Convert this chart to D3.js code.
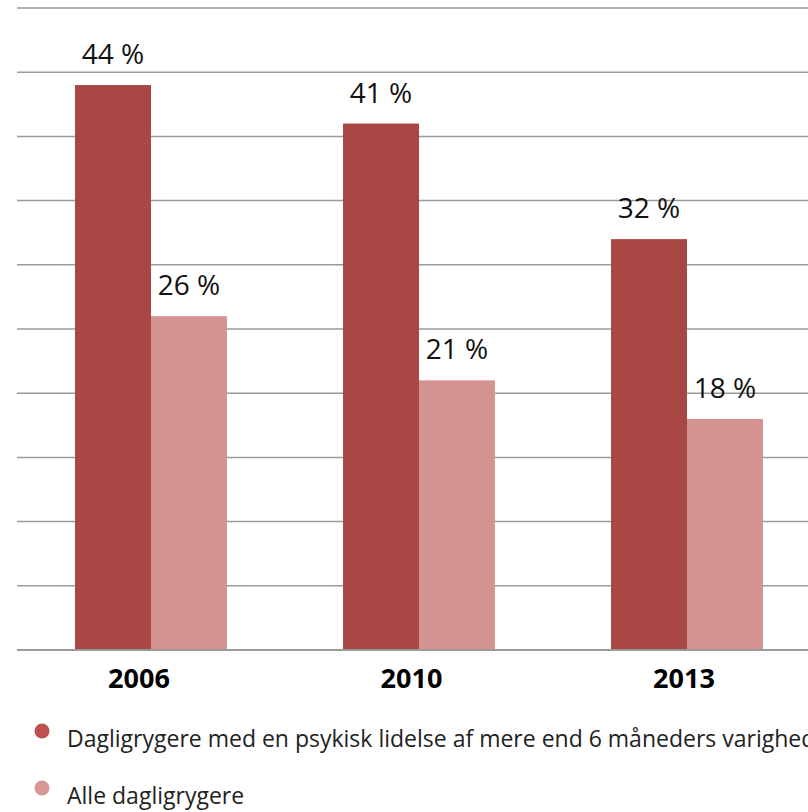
<!DOCTYPE html>
<html>
<head>
<meta charset="utf-8">
<script src="https://cdn.jsdelivr.net/npm/d3@7"></script>
<style>
  body { margin: 0; background: #fff; }
  svg text { font-family: "Open Sans", sans-serif; }
</style>
</head>
<body>
<svg id="chart" width="808" height="812"></svg>
<script>
const years = ["2006", "2010", "2013"];
const seriesNames = ["Dagligrygere med en psykisk lidelse af mere end 6 måneders varighed", "Alle dagligrygere"];
const psykisk = [44, 41, 32];
const alle = [26, 21, 18];
const yTicks = [0, 5, 10, 15, 20, 25, 30, 35, 40, 45, 50];
const colors = ["#A94744", "#D49391"];
const legendColors = ["#C0504D", "#D99694"];

const svg = d3.select("#chart");

const x = d3.scaleBand()
    .domain(years)
    .range([17, 821])
    .paddingInner(0.433)
    .paddingOuter(0.2165);

const xSub = d3.scaleBand()
    .domain([0, 1])
    .range([0, x.bandwidth()]);

// year labels sit a bit left of the bar groups
const xLab = d3.scalePoint()
    .domain(years)
    .range([139, 684]);

const y = d3.scaleLinear()
    .domain([0, 50])
    .range([650, 8]);

// gridlines
svg.selectAll(".grid")
    .data(yTicks)
    .enter()
    .append("line")
    .attr("class", "grid")
    .attr("x1", 17)
    .attr("x2", 808)
    .attr("y1", d => y(d))
    .attr("y2", d => y(d))
    .attr("stroke", "#9a9a9a")
    .attr("stroke-width", 1.5);

const rows = years.map((yr, i) => ({ year: yr, vals: [psykisk[i], alle[i]] }));

const groups = svg.selectAll(".year")
    .data(rows)
    .enter()
    .append("g")
    .attr("class", "year")
    .attr("transform", d => `translate(${x(d.year)},0)`);

groups.selectAll("rect")
    .data(d => d.vals.map((v, s) => ({ v, s })))
    .enter()
    .append("rect")
    .attr("x", d => xSub(d.s))
    .attr("width", xSub.bandwidth())
    .attr("y", d => y(d.v))
    .attr("height", d => y(0) - y(d.v))
    .attr("fill", d => colors[d.s]);

groups.selectAll(".lbl")
    .data(d => d.vals.map((v, s) => ({ v, s })))
    .enter()
    .append("text")
    .attr("class", "lbl")
    .attr("x", d => xSub(d.s) + xSub.bandwidth() / 2)
    .attr("y", d => y(d.v) - 21)
    .attr("text-anchor", "middle")
    .attr("font-size", 28)
    .attr("fill", "#111")
    .text(d => d.v + " %");

// baseline
svg.append("line")
    .attr("x1", 17).attr("x2", 808)
    .attr("y1", y(0)).attr("y2", y(0))
    .attr("stroke", "#9a9a9a")
    .attr("stroke-width", 2);

// year labels
svg.selectAll(".xlab")
    .data(years)
    .enter()
    .append("text")
    .attr("class", "xlab")
    .attr("x", d => xLab(d))
    .attr("y", 688)
    .attr("text-anchor", "middle")
    .attr("font-size", 27)
    .attr("font-weight", "bold")
    .attr("fill", "#000")
    .text(d => d);

// legend
const legend = svg.selectAll(".leg")
    .data(seriesNames)
    .enter()
    .append("g")
    .attr("class", "leg")
    .attr("transform", (d, i) => `translate(0,${731 + i * 57})`);

legend.append("circle")
    .attr("cx", 42)
    .attr("cy", 0)
    .attr("r", 7.5)
    .attr("fill", (d, i) => legendColors[i]);

legend.append("text")
    .attr("x", 67)
    .attr("y", 16)
    .attr("font-size", 23)
    .attr("fill", "#222")
    .text(d => d);
</script>
</body>
</html>
